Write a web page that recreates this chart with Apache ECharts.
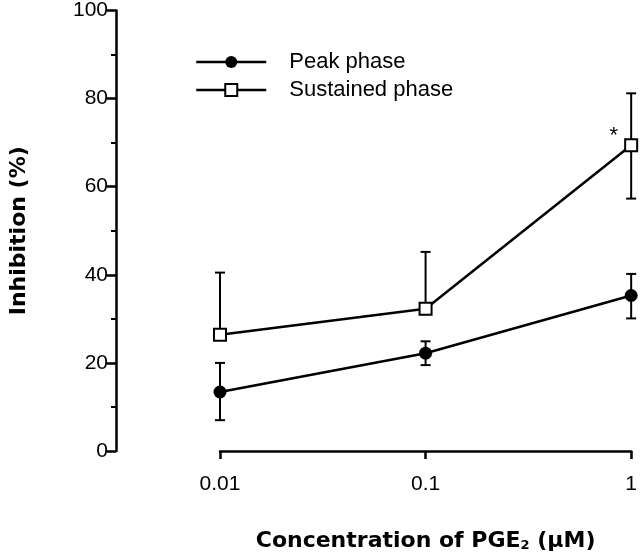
<!DOCTYPE html>
<html>
<head>
<meta charset="utf-8">
<script src="https://cdn.jsdelivr.net/npm/echarts@6/dist/echarts.min.js"></script>
<style>html,body{margin:0;padding:0;background:#fff}#c{width:640px;height:557px}</style>
</head>
<body>
<div id="c"></div>
<script>
// Data
const concentrations = [0.01, 0.1, 1];            // PGE2 (uM)
const xTickLabels = ['0.01', '0.1', '1'];
const yTickValues = [0, 20, 40, 60, 80, 100];
const peakMean = [13.4, 22.2, 35.3];
const peakErrUp = [6.6, 2.7, 4.9];
const peakErrDown = [6.4, 2.7, 5.2];
const sustainedMean = [26.4, 32.3, 69.4];
const sustainedErrUp = [14.1, 12.9, 11.8];
const sustainedErrDown = [0, 0, 12.1];
const significance = ['', '', '*'];
const seriesNames = ['Peak phase', 'Sustained phase'];

const FONT = 'Liberation Sans';
const BOLD = 'DejaVu Sans';

function pairs(means) { return concentrations.map((c, i) => [c, means[i]]); }
function errData(means, up, down) {
  return concentrations.map((c, i) => [c, means[i] - down[i], means[i] + up[i], means[i]]);
}

function renderErr(params, api) {
  const x = api.value(0), lo = api.value(1), hi = api.value(2), m = api.value(3);
  const pLo = api.coord([x, lo]);
  const pHi = api.coord([x, hi]);
  const pM = api.coord([x, m]);
  const cap = 5;
  const st = { stroke: '#000', lineWidth: 2 };
  const children = [
    { type: 'line', shape: { x1: pLo[0], y1: pLo[1], x2: pHi[0], y2: pHi[1] }, style: st },
    { type: 'line', shape: { x1: pHi[0] - cap, y1: pHi[1], x2: pHi[0] + cap, y2: pHi[1] }, style: st }
  ];
  if (Math.abs(pLo[1] - pM[1]) > 0.5) {
    children.push({ type: 'line', shape: { x1: pLo[0] - cap, y1: pLo[1], x2: pLo[0] + cap, y2: pLo[1] }, style: st });
  }
  return { type: 'group', children };
}

const chart = echarts.init(document.getElementById('c'), null, { renderer: 'canvas' });
chart.setOption({
  animation: false,
  backgroundColor: '#fff',
  textStyle: { fontFamily: FONT, color: '#000' },
  grid: { left: 216, right: 7, top: 5, bottom: 104 },
  legend: {
    orient: 'vertical',
    left: 195,
    top: 51,
    padding: 0,
    itemWidth: 70,
    itemHeight: 15,
    itemGap: 6,
    data: seriesNames,
    lineStyle: { width: 2.5, color: '#000' },
    textStyle: { fontFamily: FONT, fontSize: 22, color: '#000', padding: [0, 0, 0, 18] }
  },
  xAxis: {
    type: 'log',
    logBase: 10,
    min: concentrations[0],
    max: concentrations[concentrations.length - 1],
    name: '{b|Concentration of PGE}{s|2}{b| (\u03bcM)}',
    nameLocation: 'middle',
    nameGap: 79,
    nameTextStyle: {
      rich: {
        b: { fontFamily: BOLD, fontSize: 22, fontWeight: 'bold', color: '#000' },
        s: { fontFamily: BOLD, fontSize: 13, fontWeight: 'bold', color: '#000', verticalAlign: 'bottom', padding: [8, 0, 0, 0] }
      }
    },
    axisLine: { show: true, lineStyle: { color: '#000', width: 2.5 } },
    axisTick: { show: true, inside: false, length: 8, lineStyle: { color: '#000', width: 2.5 } },
    axisLabel: {
      margin: 23, fontFamily: FONT, fontSize: 21, color: '#000',
      formatter: v => { const i = concentrations.findIndex(c => Math.abs(c - v) / c < 1e-6); return i >= 0 ? xTickLabels[i] : ''; }
    },
    splitLine: { show: false },
    minorTick: { show: false }
  },
  yAxis: {
    type: 'value',
    min: yTickValues[0],
    max: yTickValues[yTickValues.length - 1],
    interval: 20,
    offset: 104,
    name: 'Inhibition (%)',
    nameLocation: 'middle',
    nameGap: 86,
    nameTextStyle: { fontFamily: BOLD, fontSize: 22, fontWeight: 'bold', color: '#000' },
    axisLine: { show: true, lineStyle: { color: '#000', width: 2.5 } },
    axisTick: { show: true, length: 9, lineStyle: { color: '#000', width: 2.5 } },
    minorTick: { show: true, splitNumber: 2, length: 5, lineStyle: { color: '#000', width: 2 } },
    axisLabel: { margin: 8, fontFamily: FONT, fontSize: 21, color: '#000' },
    splitLine: { show: false }
  },
  series: [
    {
      type: 'custom', name: 'peakErr', renderItem: renderErr, clip: false, z: 1,
      encode: { x: 0, y: [1, 2] },
      data: errData(peakMean, peakErrUp, peakErrDown), silent: true
    },
    {
      type: 'custom', name: 'sustErr', renderItem: renderErr, clip: false, z: 1,
      encode: { x: 0, y: [1, 2] },
      data: errData(sustainedMean, sustainedErrUp, sustainedErrDown), silent: true
    },
    {
      type: 'line', name: seriesNames[0], data: pairs(peakMean), clip: false, z: 3,
      symbol: 'circle', symbolSize: 13,
      lineStyle: { color: '#000', width: 2.5 },
      itemStyle: { color: '#000', borderColor: '#000', borderWidth: 0 }
    },
    {
      type: 'line', name: seriesNames[1], clip: false, z: 3,
      data: concentrations.map((c, i) => ({
        value: [c, sustainedMean[i]],
        label: significance[i] ? {
          show: true, formatter: significance[i], position: 'left', distance: 6,
          offset: [0, -9], fontFamily: FONT, fontSize: 22, color: '#000'
        } : { show: false }
      })),
      symbol: 'rect', symbolSize: 12,
      lineStyle: { color: '#000', width: 2.5 },
      itemStyle: { color: '#fff', borderColor: '#000', borderWidth: 2 }
    }
  ]
});
</script>
</body>
</html>
